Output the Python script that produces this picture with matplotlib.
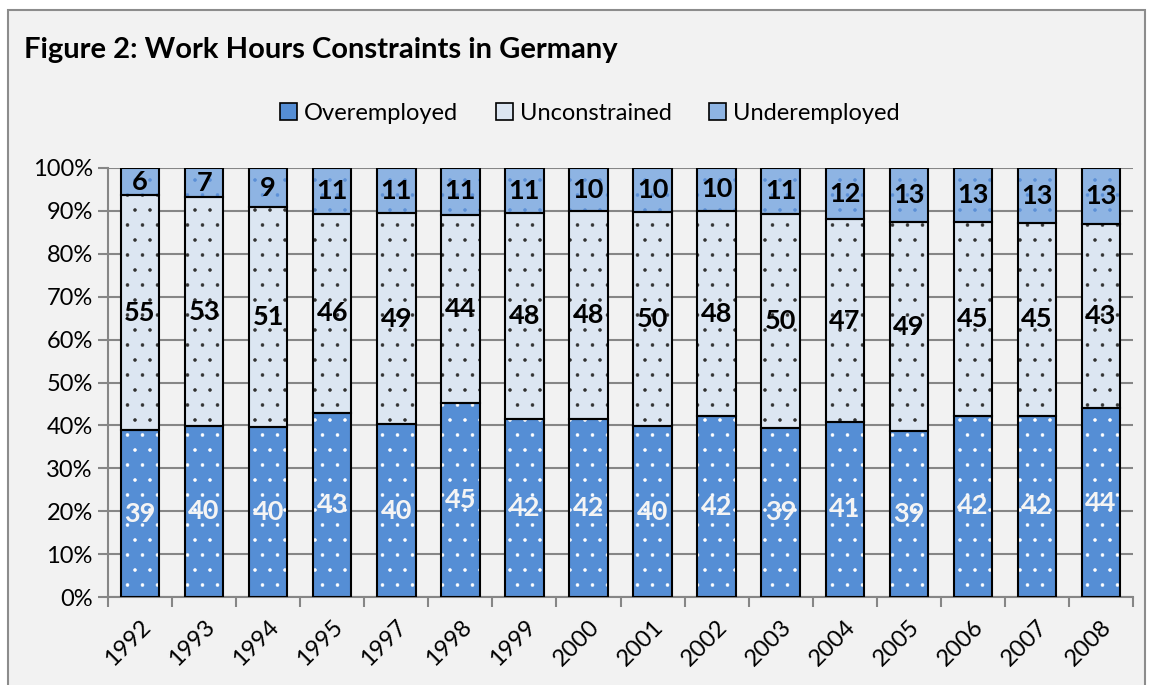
import numpy as np
import matplotlib.pyplot as plt
from matplotlib.patches import Rectangle, Patch

plt.rcParams['font.family'] = ['Lato', 'DejaVu Sans']
plt.rcParams['hatch.linewidth'] = 0.4

DPI = 90
k = 100 / DPI  # keep sizes as if drawn at 100 dpi

years = ['1992', '1993', '1994', '1995', '1997', '1998', '1999', '2000',
         '2001', '2002', '2003', '2004', '2005', '2006', '2007', '2008']
overemployed = [38.9, 39.9, 39.6, 42.9, 40.3, 45.3, 41.6, 41.6,
                39.8, 42.1, 39.4, 40.8, 38.6, 42.2, 42.3, 44.0]
unconstrained = [54.8, 53.3, 51.3, 46.4, 49.1, 43.8, 47.8, 48.3,
                 49.9, 47.9, 49.8, 47.3, 48.8, 45.2, 44.8, 43.0]
underemployed = [6.3, 6.8, 9.1, 10.7, 10.6, 10.9, 10.6, 10.1,
                 10.3, 10.0, 10.8, 11.9, 12.6, 12.6, 12.9, 13.0]

series = [
    ('Overemployed', overemployed, '#558ed5', 'white', '#f4f4f4'),
    ('Unconstrained', unconstrained, '#dce6f2', '#333333', 'black'),
    ('Underemployed', underemployed, '#8eb4e3', '#5b8fd6', 'black'),
]

fig = plt.figure(figsize=(1152 / DPI, 685 / DPI), dpi=DPI)
fig.patch.set_facecolor('white')
# chart area frame
fig.patches.append(Rectangle((8 / 1152, -0.1), (1145 - 8) / 1152, 1.1 - 10 / 685,
                             transform=fig.transFigure, facecolor='#f2f2f2',
                             edgecolor='#8c8c8c', linewidth=1.5 * k, zorder=-10))

ax = fig.add_axes([108 / 1152, 1 - 597 / 685, (1133 - 108) / 1152, (597 - 168) / 685])
ax.set_facecolor('none')

x = np.arange(len(years))
bottom = np.zeros(len(years))
handles = []
for name, vals, face, dot, txt in series:
    vals = np.array(vals)
    ax.bar(x, vals, 0.6, bottom=bottom, color=face, linewidth=0, zorder=2)
    ax.bar(x, vals, 0.6, bottom=bottom, fill=False, edgecolor=dot, hatch='.',
           linewidth=0, zorder=3)
    ax.bar(x, vals, 0.6, bottom=bottom, fill=False, edgecolor='black',
           linewidth=1.5 * k, zorder=4)
    for xi, b, v in zip(x, bottom, vals):
        ax.text(xi, b + v / 2, f'{round(v):d}', ha='center', va='center',
                fontsize=19.5 * k, fontweight='bold', color=txt, zorder=5)
    bottom += vals
    handles.append(Patch(facecolor=face, edgecolor='black', linewidth=1.2 * k, label=name))

ax.set_xlim(-0.5, len(years) - 0.5)
ax.set_ylim(0, 100)
ax.set_yticks(np.arange(0, 101, 10))
ax.set_yticklabels([f'{v}%' for v in range(0, 101, 10)], fontsize=17 * k)
ax.set_xticks(x)
ax.set_xticklabels(years, rotation=45, ha='right', rotation_mode='anchor', fontsize=17 * k)
ax.set_xticks(np.arange(-0.5, len(years)), minor=True)
ax.tick_params(axis='x', which='major', length=0, pad=14 * k)
ax.tick_params(axis='x', which='minor', length=7 * k, color='#868686', width=1.5 * k)
ax.tick_params(axis='y', length=7 * k, color='#868686', width=1.5 * k, pad=4 * k)
ax.grid(axis='y', color='#868686', linewidth=1.5 * k, zorder=1)
ax.set_axisbelow(True)
for s in ['top', 'right']:
    ax.spines[s].set_visible(False)
for s in ['left', 'bottom']:
    ax.spines[s].set_color('#868686')
    ax.spines[s].set_linewidth(1.5 * k)

fig.text(24 / 1152, 1 - 50 / 685, 'Figure 2: Work Hours Constraints in Germany',
         fontsize=21 * k, fontweight='bold', va='center', ha='left')
fig.legend(handles=handles, loc='center', bbox_to_anchor=(590 / 1152, 1 - 113 / 685),
           ncol=3, frameon=False, fontsize=17 * k, handlelength=0.7, handleheight=0.7,
           handletextpad=0.3, columnspacing=1.6)

fig.savefig('out.png', dpi=DPI, facecolor=fig.get_facecolor())
